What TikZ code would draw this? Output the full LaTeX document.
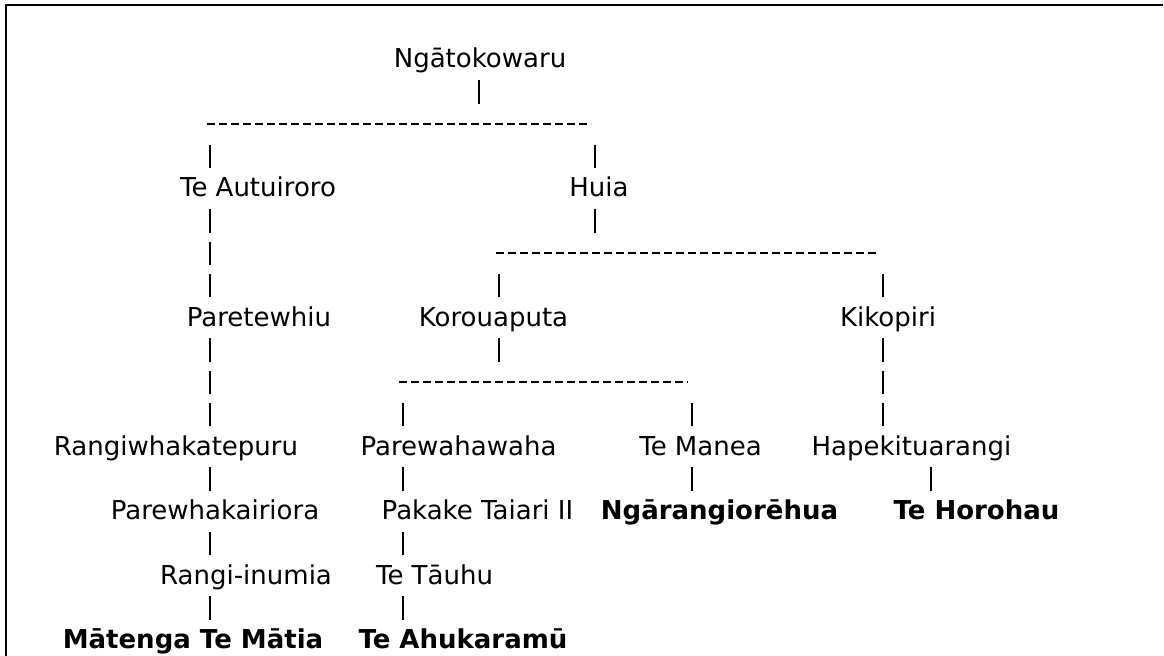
\documentclass[tikz,border=0pt]{standalone}
\usepackage{fontspec}
\setmainfont{DejaVu Sans}
\begin{document}
\begin{tikzpicture}[x=0.75pt,y=-0.75pt,
 person/.style={anchor=base,inner sep=0pt,font=\fontsize{19.5}{23}\selectfont},
 descendant/.style={person,font=\fontsize{19.5}{23}\selectfont\bfseries},
 link/.style={line width=1.5pt,shorten <=9.19pt,shorten >=21.56pt,dash pattern=on 17.63pt off 6.56pt},
 hyph/.style={line width=1.5pt,dash pattern=on 6.2pt off 2.8pt},
 frame/.style={line width=1.4pt}]
 \useasboundingbox (0,0) rectangle (1164,656);
 \draw[frame] (5.8,656)--(5.8,4.8)--(1163,4.8);
 \node[person] (ngato) at (480,68) {Ngātokowaru};
 \node[person] (teauti) at (258,197) {Te Autuiroro};
 \node[person] (huia) at (599,197) {Huia};
 \node[person] (paret) at (259,326) {Paretewhiu};
 \node[person] (korou) at (493.5,326) {Korouaputa};
 \node[person] (kikop) at (888,326) {Kikopiri};
 \node[person] (rangiw) at (176,455) {Rangiwhakatepuru};
 \node[person] (parewa) at (458.5,455) {Parewahawaha};
 \node[person] (temanea) at (700.5,455) {Te Manea};
 \node[person] (hapek) at (911.5,455) {Hapekituarangi};
 \node[person] (parewh) at (215,519.5) {Parewhakairiora};
 \node[person] (pakake) at (477.5,519.5) {Pakake Taiari II};
 \node[descendant] (ngaran) at (719.5,519.5) {Ngārangiorēhua};
 \node[descendant] (tehoro) at (976.5,519.5) {Te Horohau};
 \node[person] (rangiin) at (246,584) {Rangi-inumia};
 \node[person] (tetauhu) at (434.5,584) {Te Tāuhu};
 \node[descendant] (matenga) at (193,648.5) {Mātenga Te Mātia};
 \node[descendant] (teahuk) at (463,648.5) {Te Ahukaramū};
 \coordinate (cA) at (210,0);
 \coordinate (cB) at (479,0);
 \coordinate (cC) at (595,0);
 \coordinate (cD) at (499,0);
 \coordinate (cE) at (883,0);
 \coordinate (cF) at (403,0);
 \coordinate (cG) at (692,0);
 \coordinate (cH) at (931,0);
 \coordinate (d1w) at (207,132.5);
 \coordinate (d1e) at (591,132.5);
 \coordinate (d2w) at (496,261.5);
 \coordinate (d2e) at (879,261.5);
 \coordinate (d3w) at (399,390.5);
 \coordinate (d3e) at (688,390.5);
 \draw[hyph] ([yshift=6.6pt]d1w)--([yshift=6.6pt]d1e);
 \draw[hyph] ([yshift=6.6pt]d2w)--([yshift=6.6pt]d2e);
 \draw[hyph] ([yshift=6.6pt]d3w)--([yshift=6.6pt]d3e);
 \draw[link] (cB |- ngato.base)--(cB |- d1w);
 \draw[link] (cA |- d1w)--(cA |- teauti.base);
 \draw[link] (cC |- d1w)--(cC |- huia.base);
 \draw[link] (cA |- teauti.base)--(cA |- paret.base);
 \draw[link] (cC |- huia.base)--(cC |- d2w);
 \draw[link] (cD |- d2w)--(cD |- korou.base);
 \draw[link] (cE |- d2w)--(cE |- kikop.base);
 \draw[link] (cA |- paret.base)--(cA |- rangiw.base);
 \draw[link] (cD |- korou.base)--(cD |- d3w);
 \draw[link] (cE |- kikop.base)--(cE |- hapek.base);
 \draw[link] (cF |- d3w)--(cF |- parewa.base);
 \draw[link] (cG |- d3w)--(cG |- temanea.base);
 \draw[link] (cA |- rangiw.base)--(cA |- parewh.base);
 \draw[link] (cF |- parewa.base)--(cF |- pakake.base);
 \draw[link] (cG |- temanea.base)--(cG |- ngaran.base);
 \draw[link] (cH |- hapek.base)--(cH |- tehoro.base);
 \draw[link] (cA |- parewh.base)--(cA |- rangiin.base);
 \draw[link] (cF |- pakake.base)--(cF |- tetauhu.base);
 \draw[link] (cA |- rangiin.base)--(cA |- matenga.base);
 \draw[link] (cF |- tetauhu.base)--(cF |- teahuk.base);
\end{tikzpicture}
\end{document}
